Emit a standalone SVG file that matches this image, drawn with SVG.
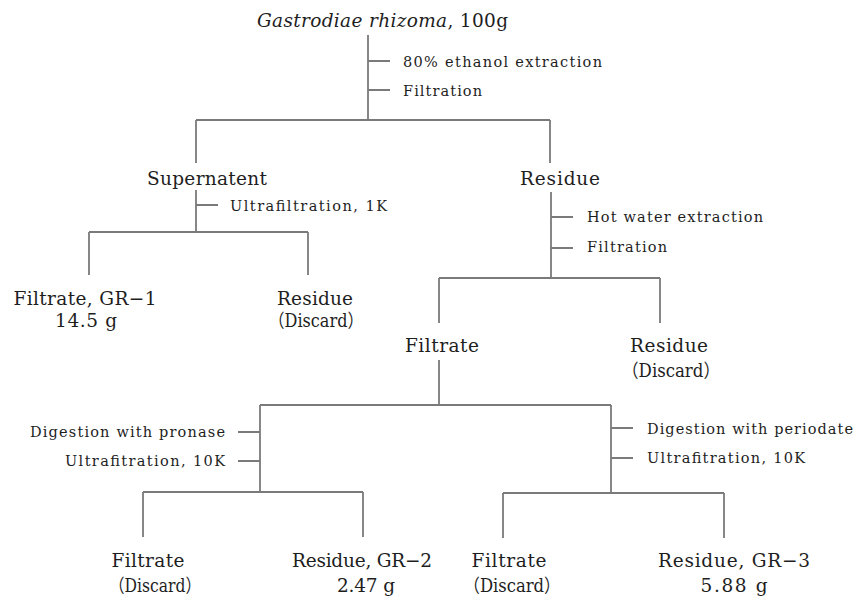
<svg xmlns="http://www.w3.org/2000/svg" width="856" height="602" viewBox="0 0 856 602">
<style>
text{font-family:"DejaVu Serif","Noto Sans CJK JP",serif;fill:#1e1e1e}
.L{font-size:18.5px}
.S{font-size:14.5px}
.m{text-anchor:middle}
.e{text-anchor:end}
#connectors path{fill:none;stroke:#7a7a7a;stroke-width:1.8}
</style>
<rect width="856" height="602" fill="#fff"/>
<g id="connectors">
<path d="M368 35V120M368 61H390M368 90H390M196 120H550M196 120V163M550 120V163"/>
<path d="M196 190V232M196 205H218M89 232H308M89 232V275M308 232V275"/>
<path d="M551 192V278M551 217H573M551 248H573M439 278H660M439 278V323M660 278V323"/>
<path d="M439 360V405M260 405H611M260 405V492M238 432H260M238 461H260M143 492H363M143 492V537M363 492V537"/>
<path d="M611 405V493M611 428H633M611 458H633M503 493H724M503 493V538M724 493V538"/>
</g>
<g id="n-root"><text class="L" x="257" y="27" textLength="251"><tspan font-style="italic">Gastrodiae rhizoma</tspan>, 100g</text></g>
<g id="s-ethanol"><text class="S" x="403" y="67" textLength="199">80% ethanol extraction</text><text class="S" x="403" y="96" textLength="79">Filtration</text></g>
<g id="n-supernatent"><text class="L m" x="207" y="185" textLength="120">Supernatent</text></g>
<g id="s-uf1k"><text class="S" x="230" y="211" textLength="157">Ultrafiltration, 1K</text></g>
<g id="n-gr1"><text class="L m" x="85" y="305" textLength="143">Filtrate, GR−1</text><text class="L m" x="86" y="327" textLength="62">14.5 g</text></g>
<g id="n-residue1"><text class="L m" x="315" y="305" textLength="76">Residue</text><text class="L m" x="316" y="327" textLength="95" lengthAdjust="spacingAndGlyphs">（Discard）</text></g>
<g id="n-residue"><text class="L m" x="560" y="185" textLength="80">Residue</text></g>
<g id="s-hotwater"><text class="S" x="587" y="222" textLength="176">Hot water extraction</text><text class="S" x="587" y="252" textLength="80">Filtration</text></g>
<g id="n-filtrate"><text class="L m" x="442" y="352" textLength="74">Filtrate</text></g>
<g id="n-residue2"><text class="L m" x="669" y="352" textLength="78">Residue</text><text class="L m" x="671" y="377" textLength="98" lengthAdjust="spacingAndGlyphs">（Discard）</text></g>
<g id="s-pronase"><text class="S e" x="225" y="437" textLength="195">Digestion with pronase</text><text class="S e" x="225" y="466" textLength="160">Ultrafitration, 10K</text></g>
<g id="n-filtrate2"><text class="L m" x="148" y="567" textLength="73">Filtrate</text><text class="L m" x="155" y="592" textLength="92" lengthAdjust="spacingAndGlyphs">（Discard）</text></g>
<g id="n-gr2"><text class="L m" x="362" y="567" textLength="140">Residue, GR−2</text><text class="L m" x="366" y="592" textLength="58">2.47 g</text></g>
<g id="s-periodate"><text class="S" x="647" y="434" textLength="206">Digestion with periodate</text><text class="S" x="647" y="463" textLength="158">Ultrafitration, 10K</text></g>
<g id="n-filtrate3"><text class="L m" x="509" y="567" textLength="75">Filtrate</text><text class="L m" x="512" y="592" textLength="97" lengthAdjust="spacingAndGlyphs">（Discard）</text></g>
<g id="n-gr3"><text class="L m" x="734" y="567" textLength="152">Residue, GR−3</text><text class="L m" x="734" y="592" textLength="67">5.88 g</text></g>
</svg>
